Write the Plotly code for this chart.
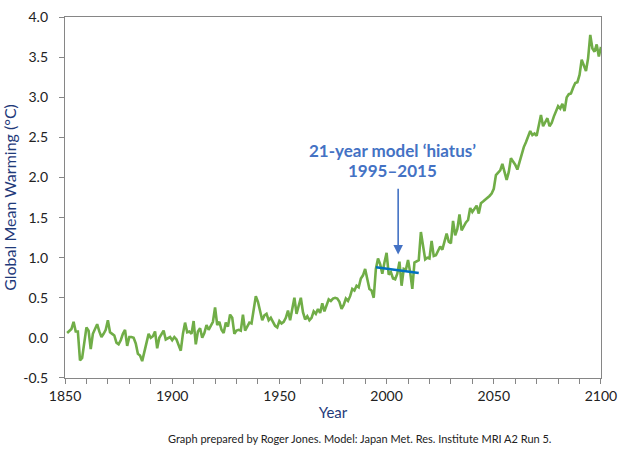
import plotly.graph_objects as go

years = list(range(1851, 2101))
warming = [
    0.06, 0.09, 0.11, 0.20, 0.08, 0.08, -0.28, -0.25, -0.05, 0.13,   # 1851-1860
    0.09, -0.14, 0.05, 0.10, 0.17, 0.08, 0.01, 0.05, 0.10, 0.22,     # 1861-1870
    0.07, 0.05, 0.03, -0.06, -0.08, -0.03, 0.05, 0.10, -0.10, 0.01,  # 1871-1880
    0.01, 0.00, -0.07, -0.20, -0.22, -0.29, -0.17, -0.05, 0.05, 0.00,  # 1881-1890
    0.02, 0.08, -0.13, 0.00, 0.05, 0.09, -0.02, 0.00, 0.01, -0.03,   # 1891-1900
    0.01, -0.02, -0.08, -0.16, 0.05, 0.19, 0.07, 0.08, 0.05, 0.21,   # 1901-1910
    -0.08, 0.08, 0.12, 0.00, 0.06, 0.16, 0.10, 0.15, 0.20, 0.38,     # 1911-1920
    0.16, 0.20, 0.10, 0.06, 0.19, 0.14, 0.29, 0.25, 0.05, 0.09,      # 1921-1930
    0.10, 0.09, 0.29, 0.09, 0.15, 0.19, 0.18, 0.33, 0.52, 0.45,      # 1931-1940
    0.33, 0.22, 0.28, 0.30, 0.22, 0.25, 0.20, 0.15, 0.13, 0.21,      # 1941-1950
    0.18, 0.20, 0.25, 0.34, 0.22, 0.38, 0.50, 0.30, 0.39, 0.50,      # 1951-1960
    0.32, 0.23, 0.27, 0.22, 0.25, 0.33, 0.30, 0.36, 0.31, 0.43,      # 1961-1970
    0.33, 0.40, 0.48, 0.46, 0.49, 0.50, 0.49, 0.45, 0.36, 0.41,      # 1971-1980
    0.49, 0.46, 0.52, 0.61, 0.59, 0.65, 0.63, 0.74, 0.78, 0.86,      # 1981-1990
    0.73, 0.61, 0.59, 0.50, 0.86, 0.99, 0.92, 0.80, 0.94, 1.06,      # 1991-2000
    0.79, 0.82, 0.74, 0.73, 0.80, 0.95, 0.65, 0.86, 0.85, 0.97,      # 2001-2010
    0.82, 0.61, 0.94, 0.96, 0.97, 1.32, 1.13, 0.98, 1.00, 0.99,      # 2011-2020
    1.21, 1.02, 1.03, 1.08, 1.14, 1.10, 1.22, 1.30, 1.20, 1.18,      # 2021-2030
    1.46, 1.28, 1.36, 1.54, 1.34, 1.40, 1.44, 1.47, 1.62, 1.57,      # 2031-2040
    1.61, 1.65, 1.55, 1.68, 1.70, 1.72, 1.74, 1.77, 1.80, 1.86,      # 2041-2050
    2.03, 2.06, 2.09, 2.17, 2.06, 1.97, 2.07, 2.24, 2.20, 2.16,      # 2051-2060
    2.10, 2.20, 2.28, 2.38, 2.44, 2.50, 2.58, 2.53, 2.55, 2.52,      # 2061-2070
    2.64, 2.78, 2.64, 2.69, 2.74, 2.64, 2.68, 2.76, 2.82, 2.89,      # 2071-2080
    2.86, 2.92, 2.83, 3.00, 3.04, 3.05, 3.12, 3.18, 3.19, 3.28,      # 2081-2090
    3.47, 3.41, 3.33, 3.49, 3.78, 3.61, 3.57, 3.66, 3.51, 3.63,      # 2091-2100
]

trend_years = [1995, 2015]
trend_values = [0.88, 0.81]

x_ticks = [1850, 1900, 1950, 2000, 2050, 2100]
y_ticks = [-0.5, 0.0, 0.5, 1.0, 1.5, 2.0, 2.5, 3.0, 3.5, 4.0]
y_tick_labels = ["-0.5", "0.0", "0.5", "1.0", "1.5", "2.0", "2.5", "3.0", "3.5", "4.0"]

GREEN = "#70AD47"
TREND = "#0070C0"
NOTE = "#4472C4"
TITLE = "#1F3A7A"
FONT = "Lato, Open Sans, sans-serif"

fig = go.Figure()
fig.add_trace(go.Scatter(x=years, y=warming, mode="lines",
                         line=dict(color=GREEN, width=2.6), hoverinfo="skip",
                         showlegend=False))
fig.add_trace(go.Scatter(x=trend_years, y=trend_values, mode="lines",
                         line=dict(color=TREND, width=2.6), hoverinfo="skip",
                         showlegend=False))

fig.update_layout(
    width=625, height=454,
    margin=dict(l=65, r=22, t=8, b=76),
    paper_bgcolor="white", plot_bgcolor="white",
    font=dict(family=FONT, size=14, color="#222222"),
    xaxis=dict(range=[1850, 2100.01], tickvals=x_ticks, ticks="outside",
               ticklen=5, tickcolor="#868686", showgrid=False, zeroline=False,
               showline=True, linecolor="#868686", linewidth=1.3, mirror=True,
               minor=dict(dtick=10, tick0=1850, ticks="outside", ticklen=5,
                          tickcolor="#868686"),
               title=dict(text="Year", font=dict(color=TITLE, size=15), standoff=4),
               tickfont=dict(size=14)),
    yaxis=dict(range=[-0.501, 4.003], tickvals=y_ticks, ticktext=y_tick_labels,
               ticks="outside", ticklen=5, tickcolor="#868686",
               ticklabelstandoff=8,
               showgrid=False, zeroline=False,
               showline=True, linecolor="#868686", linewidth=1.3, mirror=True,
               title=dict(text="Global Mean Warming (°C)",
                          font=dict(color=TITLE, size=16), standoff=2),
               tickfont=dict(size=14)),
)

fig.add_annotation(x=2002.7, y=2.336, xref="x", yref="y",
                   text="<b>21-year model ‘hiatus’</b>",
                   showarrow=False, align="center",
                   font=dict(color=NOTE, size=17, family=FONT))
fig.add_annotation(x=2002.7, y=2.09, xref="x", yref="y",
                   text="<b>1995–2015</b>",
                   showarrow=False, align="center",
                   font=dict(color=NOTE, size=17, family=FONT))
fig.add_annotation(x=2005.4, y=1.04, ax=2005.4, ay=1.88,
                   xref="x", yref="y", axref="x", ayref="y",
                   text="", showarrow=True, arrowhead=2, arrowsize=1.2,
                   arrowwidth=1.6, arrowcolor=NOTE)
fig.add_annotation(x=0.55, y=-0.19, xref="paper", yref="paper",
                   text="Graph prepared by Roger Jones. Model: Japan Met. Res. Institute MRI A2 Run 5.",
                   showarrow=False, font=dict(size=11, color="#222222", family=FONT))

fig.write_html("out.html", config={"displayModeBar": False},
               post_script="document.body.style.margin='0';document.body.style.overflow='hidden';")
